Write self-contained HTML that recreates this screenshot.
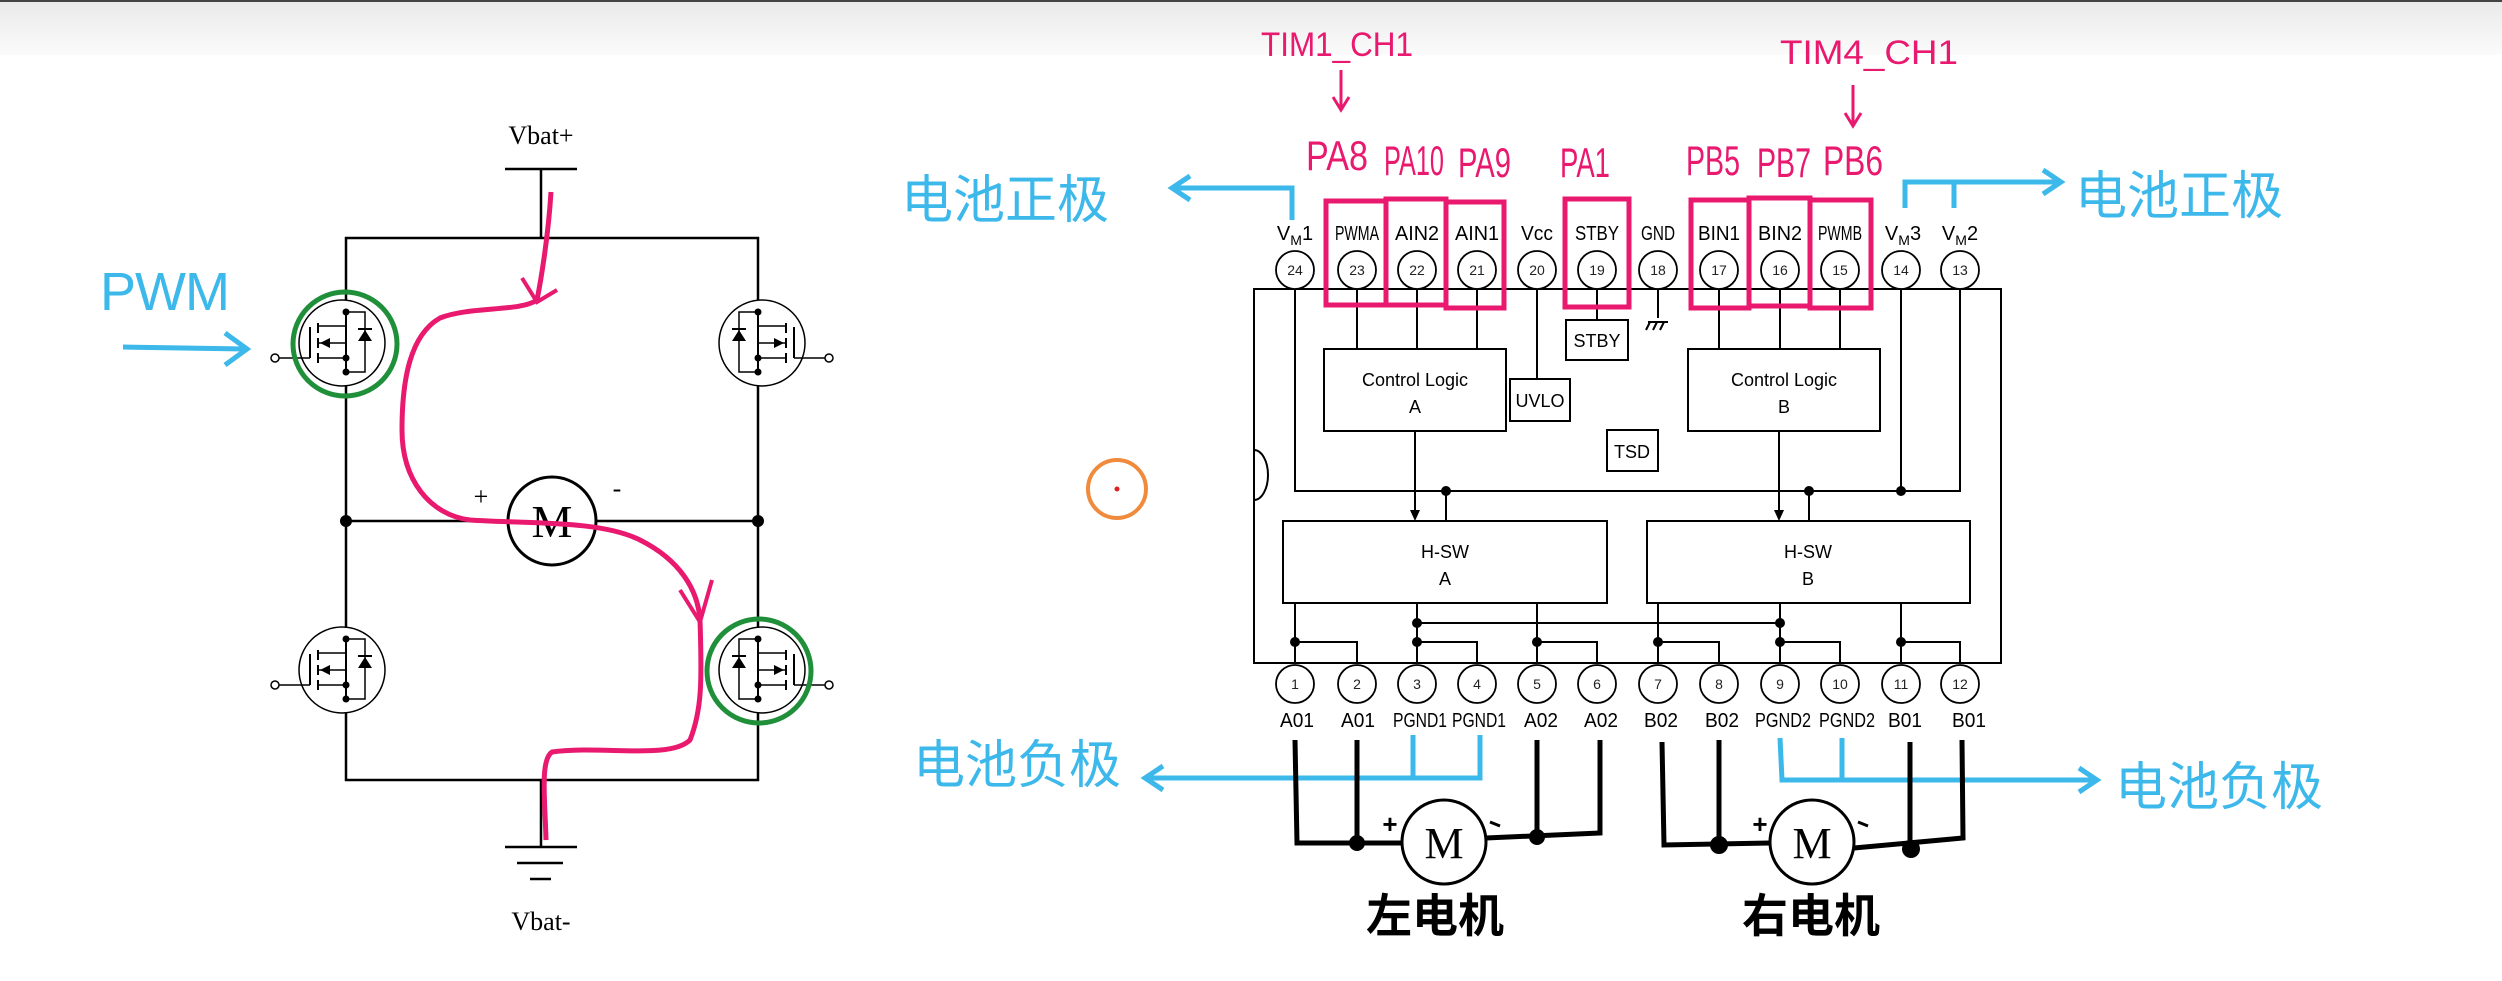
<!DOCTYPE html>
<html><head><meta charset="utf-8"><style>
html,body{margin:0;padding:0;background:#fff;}
svg{display:block;}
.t{font-family:"Liberation Serif",serif;}
.p{font-family:"Liberation Sans Narrow","Liberation Sans",sans-serif;}
.h{font-family:"Liberation Sans","Noto Sans CJK SC",sans-serif;}
</style></head><body>
<svg width="2502" height="981" viewBox="0 0 2502 981" xmlns="http://www.w3.org/2000/svg">
<defs>
<linearGradient id="g" x1="0" y1="0" x2="0" y2="1"><stop offset="0" stop-color="#e9e9e9"/><stop offset="1" stop-color="#fbfbfb"/></linearGradient>
<g id="mos">
 <circle cx="0" cy="0" r="43" fill="none" stroke="#000" stroke-width="1.5"/>
 <line x1="4" y1="-31" x2="4" y2="29" stroke="#000" stroke-width="2"/>
 <circle cx="4" cy="-31" r="3.5"/><circle cx="4" cy="15" r="3.5"/><circle cx="4" cy="29" r="3.5"/>
 <line x1="-32" y1="-16" x2="-32" y2="15" stroke="#000" stroke-width="2"/>
 <line x1="-24" y1="-20" x2="-24" y2="-10" stroke="#000" stroke-width="2"/>
 <line x1="-24" y1="-5" x2="-24" y2="5" stroke="#000" stroke-width="2"/>
 <line x1="-24" y1="10" x2="-24" y2="20" stroke="#000" stroke-width="2"/>
 <polyline points="-24,-17 4,-17" fill="none" stroke="#000" stroke-width="1.5"/>
 <polyline points="-24,0 4,0 4,15" fill="none" stroke="#000" stroke-width="1.5"/>
 <line x1="-24" y1="15" x2="4" y2="15" stroke="#000" stroke-width="1.5"/>
 <polygon points="-22,0 -12,-5 -12,5"/>
 <polyline points="4,-31 23,-31 23,29 4,29" fill="none" stroke="#000" stroke-width="1.5"/>
 <polygon points="16,-2 30,-2 23,-13"/><line x1="16" y1="-14" x2="30" y2="-14" stroke="#000" stroke-width="2"/>
 <line x1="-32" y1="15" x2="-63" y2="15" stroke="#000" stroke-width="1.5"/>
 <circle cx="-67" cy="15" r="4" fill="#fff" stroke="#000" stroke-width="1.5"/>
</g>
</defs>
<rect x="0" y="0" width="2502" height="981" fill="#fff"/>
<rect x="0" y="0" width="2502" height="55" fill="url(#g)"/>
<line x1="0" y1="1" x2="2502" y2="1" stroke="#444" stroke-width="2"/>

<!-- LEFT H-BRIDGE -->
<g stroke="#000" stroke-width="2.5" fill="none">
 <line x1="505" y1="169" x2="577" y2="169"/>
 <line x1="541" y1="169" x2="541" y2="238"/>
 <polyline points="346,300 346,238 758,238 758,300"/>
 <line x1="346" y1="385" x2="346" y2="628"/>
 <line x1="758" y1="385" x2="758" y2="628"/>
 <polyline points="346,712 346,780 758,780 758,712"/>
 <line x1="346" y1="521" x2="508" y2="521"/>
 <line x1="596" y1="521" x2="758" y2="521"/>
 <line x1="541" y1="780" x2="541" y2="847"/>
 <line x1="505" y1="847" x2="577" y2="847"/>
 <line x1="517" y1="863" x2="563" y2="863"/>
 <line x1="530" y1="879" x2="551" y2="879"/>
</g>
<circle cx="346" cy="521" r="6"/><circle cx="758" cy="521" r="6"/>
<circle cx="552" cy="521" r="44" fill="#fff" stroke="#000" stroke-width="3"/>
<text x="552" y="537" class="t" font-size="46" text-anchor="middle">M</text>
<text x="481" y="505" class="t" font-size="26" text-anchor="middle">+</text>
<text x="617" y="497" class="t" font-size="26" text-anchor="middle">-</text>
<text x="541" y="144" class="t" font-size="26" text-anchor="middle">Vbat+</text>
<text x="541" y="930" class="t" font-size="26" text-anchor="middle">Vbat-</text>
<use href="#mos" transform="translate(342,343)"/>
<use href="#mos" transform="translate(342,670)"/>
<use href="#mos" transform="translate(762,343) scale(-1,1)"/>
<use href="#mos" transform="translate(762,670) scale(-1,1)"/>
<circle cx="345" cy="344" r="52" fill="none" stroke="#1f8f3a" stroke-width="5"/>
<circle cx="759" cy="671" r="52" fill="none" stroke="#1f8f3a" stroke-width="5"/>
<path d="M551,192 C548,240 540,285 537,300 C520,312 470,306 440,318 C410,335 402,380 402,430 C402,480 430,515 470,520 C530,524 600,520 640,540 C680,560 698,590 700,620 C702,680 702,710 690,740 C670,760 600,745 552,752 C540,760 545,800 546,840" fill="none" stroke="#e8196e" stroke-width="5"/>
<polyline points="522,278 537,302 557,290" fill="none" stroke="#e8196e" stroke-width="4"/>
<polyline points="680,590 700,622 712,580" fill="none" stroke="#e8196e" stroke-width="4"/>
<text x="100" y="310" class="h" font-size="54" fill="#3cb8ea" textLength="130" lengthAdjust="spacing" font-weight="300">PWM</text>
<line x1="123" y1="347" x2="245" y2="349" stroke="#3cb8ea" stroke-width="5"/>
<polyline points="225,333 247,349 225,365" fill="none" stroke="#3cb8ea" stroke-width="5"/>

<!-- CHIP -->
<g stroke="#000" stroke-width="2" fill="none">
 <rect x="1254" y="289" width="747" height="374"/>
 <path d="M1254,450 A14,25 0 0 1 1254,500"/>
 <polyline points="1295,289 1295,491 1960,491 1960,289"/>
 <line x1="1901" y1="289" x2="1901" y2="491"/>
 <line x1="1446" y1="491" x2="1446" y2="521"/>
 <line x1="1809" y1="491" x2="1809" y2="521"/>
 <line x1="1357" y1="289" x2="1357" y2="349"/><line x1="1417" y1="289" x2="1417" y2="349"/><line x1="1477" y1="289" x2="1477" y2="349"/>
 <line x1="1719" y1="289" x2="1719" y2="349"/><line x1="1780" y1="289" x2="1780" y2="349"/><line x1="1840" y1="289" x2="1840" y2="349"/>
 <line x1="1537" y1="289" x2="1537" y2="379"/>
 <line x1="1597" y1="289" x2="1597" y2="320"/>
 <line x1="1658" y1="289" x2="1658" y2="318"/>
 <rect x="1324" y="349" width="182" height="82"/>
 <rect x="1688" y="349" width="192" height="82"/>
 <rect x="1510" y="379" width="60" height="42"/>
 <rect x="1566" y="320" width="62" height="40"/>
 <rect x="1607" y="430" width="51" height="41"/>
 <rect x="1283" y="521" width="324" height="82"/>
 <rect x="1647" y="521" width="323" height="82"/>
 <line x1="1415" y1="431" x2="1415" y2="515"/>
 <line x1="1779" y1="431" x2="1779" y2="515"/>
 <line x1="1295" y1="603" x2="1295" y2="663"/><polyline points="1295,642 1357,642 1357,663"/>
 <line x1="1417" y1="603" x2="1417" y2="663"/><polyline points="1417,642 1477,642 1477,663"/>
 <line x1="1537" y1="603" x2="1537" y2="663"/><polyline points="1537,642 1597,642 1597,663"/>
 <line x1="1658" y1="603" x2="1658" y2="663"/><polyline points="1658,642 1719,642 1719,663"/>
 <line x1="1780" y1="603" x2="1780" y2="663"/><polyline points="1780,642 1840,642 1840,663"/>
 <line x1="1901" y1="603" x2="1901" y2="663"/><polyline points="1901,642 1960,642 1960,663"/>
 <line x1="1417" y1="623" x2="1780" y2="623"/>
 <line x1="1648" y1="322" x2="1668" y2="322"/><line x1="1650" y1="322" x2="1646" y2="330"/><line x1="1657" y1="322" x2="1653" y2="330"/><line x1="1664" y1="322" x2="1660" y2="330"/>
</g>
<polygon points="1415,521 1410,510 1420,510"/><polygon points="1779,521 1774,510 1784,510"/>
<g>
 <circle cx="1446" cy="491" r="5"/><circle cx="1809" cy="491" r="5"/><circle cx="1901" cy="491" r="5"/>
 <circle cx="1295" cy="642" r="5"/><circle cx="1417" cy="642" r="5"/><circle cx="1417" cy="623" r="5"/><circle cx="1537" cy="642" r="5"/>
 <circle cx="1658" cy="642" r="5"/><circle cx="1780" cy="642" r="5"/><circle cx="1780" cy="623" r="5"/><circle cx="1901" cy="642" r="5"/>
</g>
<g class="p" font-size="18" text-anchor="middle">
 <text x="1415" y="386">Control Logic</text><text x="1415" y="413">A</text>
 <text x="1784" y="386">Control Logic</text><text x="1784" y="413">B</text>
 <text x="1540" y="407">UVLO</text><text x="1597" y="347">STBY</text><text x="1632" y="458">TSD</text>
 <text x="1445" y="558">H-SW</text><text x="1445" y="585">A</text>
 <text x="1808" y="558">H-SW</text><text x="1808" y="585">B</text>
</g>
<g fill="#fff" stroke="#000" stroke-width="1.8">
 <circle cx="1295" cy="270" r="19"/><circle cx="1357" cy="270" r="19"/><circle cx="1417" cy="270" r="19"/><circle cx="1477" cy="270" r="19"/><circle cx="1537" cy="270" r="19"/><circle cx="1597" cy="270" r="19"/><circle cx="1658" cy="270" r="19"/><circle cx="1719" cy="270" r="19"/><circle cx="1780" cy="270" r="19"/><circle cx="1840" cy="270" r="19"/><circle cx="1901" cy="270" r="19"/><circle cx="1960" cy="270" r="19"/>
 <circle cx="1295" cy="684" r="19"/><circle cx="1357" cy="684" r="19"/><circle cx="1417" cy="684" r="19"/><circle cx="1477" cy="684" r="19"/><circle cx="1537" cy="684" r="19"/><circle cx="1597" cy="684" r="19"/><circle cx="1658" cy="684" r="19"/><circle cx="1719" cy="684" r="19"/><circle cx="1780" cy="684" r="19"/><circle cx="1840" cy="684" r="19"/><circle cx="1901" cy="684" r="19"/><circle cx="1960" cy="684" r="19"/>
</g>
<g class="p" font-size="14" text-anchor="middle" fill="#222">
 <text x="1295" y="275">24</text><text x="1357" y="275">23</text><text x="1417" y="275">22</text><text x="1477" y="275">21</text><text x="1537" y="275">20</text><text x="1597" y="275">19</text><text x="1658" y="275">18</text><text x="1719" y="275">17</text><text x="1780" y="275">16</text><text x="1840" y="275">15</text><text x="1901" y="275">14</text><text x="1960" y="275">13</text>
 <text x="1295" y="689">1</text><text x="1357" y="689">2</text><text x="1417" y="689">3</text><text x="1477" y="689">4</text><text x="1537" y="689">5</text><text x="1597" y="689">6</text><text x="1658" y="689">7</text><text x="1719" y="689">8</text><text x="1780" y="689">9</text><text x="1840" y="689">10</text><text x="1901" y="689">11</text><text x="1960" y="689">12</text>
</g>
<g class="p" font-size="20" text-anchor="middle" lengthAdjust="spacingAndGlyphs">
 <text x="1295" y="240">V<tspan font-size="14" dy="5">M</tspan><tspan dy="-5">1</tspan></text>
 <text x="1357" y="240" textLength="44" lengthAdjust="spacingAndGlyphs">PWMA</text>
 <text x="1417" y="240" textLength="44" lengthAdjust="spacingAndGlyphs">AIN2</text>
 <text x="1477" y="240" textLength="44" lengthAdjust="spacingAndGlyphs">AIN1</text>
 <text x="1537" y="240" textLength="32" lengthAdjust="spacingAndGlyphs">Vcc</text>
 <text x="1597" y="240" textLength="44" lengthAdjust="spacingAndGlyphs">STBY</text>
 <text x="1658" y="240" textLength="34" lengthAdjust="spacingAndGlyphs">GND</text>
 <text x="1719" y="240" textLength="42" lengthAdjust="spacingAndGlyphs">BIN1</text>
 <text x="1780" y="240" textLength="44" lengthAdjust="spacingAndGlyphs">BIN2</text>
 <text x="1840" y="240" textLength="44" lengthAdjust="spacingAndGlyphs">PWMB</text>
 <text x="1903" y="240">V<tspan font-size="14" dy="5">M</tspan><tspan dy="-5">3</tspan></text>
 <text x="1960" y="240">V<tspan font-size="14" dy="5">M</tspan><tspan dy="-5">2</tspan></text>
 <text x="1297" y="727" textLength="34" lengthAdjust="spacingAndGlyphs">A01</text>
 <text x="1358" y="727" textLength="34" lengthAdjust="spacingAndGlyphs">A01</text>
 <text x="1420" y="727" textLength="54" lengthAdjust="spacingAndGlyphs">PGND1</text>
 <text x="1479" y="727" textLength="54" lengthAdjust="spacingAndGlyphs">PGND1</text>
 <text x="1541" y="727" textLength="34" lengthAdjust="spacingAndGlyphs">A02</text>
 <text x="1601" y="727" textLength="34" lengthAdjust="spacingAndGlyphs">A02</text>
 <text x="1661" y="727" textLength="34" lengthAdjust="spacingAndGlyphs">B02</text>
 <text x="1722" y="727" textLength="34" lengthAdjust="spacingAndGlyphs">B02</text>
 <text x="1783" y="727" textLength="56" lengthAdjust="spacingAndGlyphs">PGND2</text>
 <text x="1847" y="727" textLength="56" lengthAdjust="spacingAndGlyphs">PGND2</text>
 <text x="1905" y="727" textLength="34" lengthAdjust="spacingAndGlyphs">B01</text>
 <text x="1969" y="727" textLength="34" lengthAdjust="spacingAndGlyphs">B01</text>
</g>
<g fill="none" stroke="#e8196e" stroke-width="5">
 <rect x="1326" y="201" width="60" height="104"/><rect x="1386" y="199" width="60" height="106"/><rect x="1446" y="202" width="58" height="106"/>
 <rect x="1565" y="199" width="64" height="108"/>
 <rect x="1691" y="200" width="58" height="108"/><rect x="1749" y="198" width="61" height="108"/><rect x="1810" y="200" width="61" height="108"/>
 <line x1="1341" y1="70" x2="1341" y2="108" stroke-width="3"/><polyline points="1333,97 1341,110 1349,97" stroke-width="3"/>
 <line x1="1853" y1="85" x2="1853" y2="124" stroke-width="3"/><polyline points="1845,113 1853,126 1861,113" stroke-width="3"/>
</g>
<g class="p" fill="#e8196e" font-size="42">
 <text x="1261" y="56" font-size="34" textLength="152" lengthAdjust="spacingAndGlyphs">TIM1_CH1</text>
 <text x="1780" y="64" font-size="34" textLength="178" lengthAdjust="spacingAndGlyphs">TIM4_CH1</text>
 <text x="1306" y="170" textLength="62" lengthAdjust="spacingAndGlyphs">PA8</text>
 <text x="1384" y="175" textLength="60" lengthAdjust="spacingAndGlyphs">PA10</text>
 <text x="1458" y="177" textLength="53" lengthAdjust="spacingAndGlyphs">PA9</text>
 <text x="1560" y="177" textLength="50" lengthAdjust="spacingAndGlyphs">PA1</text>
 <text x="1686" y="175" textLength="54" lengthAdjust="spacingAndGlyphs">PB5</text>
 <text x="1757" y="177" textLength="54" lengthAdjust="spacingAndGlyphs">PB7</text>
 <text x="1823" y="175" textLength="60" lengthAdjust="spacingAndGlyphs">PB6</text>
</g>
<g fill="none" stroke="#3cb8ea" stroke-width="5">
 <polyline points="1292,220 1292,188 1172,188"/><polyline points="1190,176 1172,188 1190,200"/>
 <polyline points="1905,208 1905,182 2061,182"/><line x1="1954" y1="182" x2="1954" y2="208"/><polyline points="2043,170 2061,182 2043,194"/>
 <polyline points="1413,735 1413,778"/><polyline points="1480,735 1480,778 1145,778"/><polyline points="1163,766 1145,778 1163,790"/>
 <polyline points="1780,738 1782,780 2097,780"/><line x1="1842" y1="738" x2="1842" y2="780"/><polyline points="2079,768 2097,780 2079,792"/>
</g>
<g class="h" fill="#3cb8ea" font-size="52">
 <text x="901" y="218">电池正极</text>
 <text x="2075" y="214">电池正极</text>
 <text x="913" y="783">电池负极</text>
 <text x="2115" y="805">电池负极</text>
</g>
<g fill="none" stroke="#000" stroke-width="5">
 <polyline points="1295,740 1297,843 1401,843"/><line x1="1357" y1="740" x2="1357" y2="845"/>
 <polyline points="1486,838 1600,833 1600,740"/><line x1="1537" y1="740" x2="1537" y2="838"/>
 <polyline points="1662,742 1664,845 1770,843"/><line x1="1719" y1="740" x2="1719" y2="845"/>
 <polyline points="1854,848 1963,838 1962,740"/><line x1="1910" y1="742" x2="1910" y2="852"/>
</g>
<circle cx="1357" cy="843" r="8"/><circle cx="1537" cy="837" r="8"/><circle cx="1719" cy="845" r="9"/><circle cx="1911" cy="849" r="9"/>
<circle cx="1444" cy="842" r="42" fill="#fff" stroke="#000" stroke-width="3"/>
<circle cx="1812" cy="842" r="42" fill="#fff" stroke="#000" stroke-width="3"/>
<text x="1444" y="858" class="t" font-size="44" text-anchor="middle">M</text>
<text x="1812" y="858" class="t" font-size="44" text-anchor="middle">M</text>
<text x="1390" y="833" class="h" font-size="26" font-weight="bold" text-anchor="middle">+</text>
<text x="1760" y="833" class="h" font-size="26" font-weight="bold" text-anchor="middle">+</text>
<line x1="1490" y1="822" x2="1500" y2="826" stroke="#000" stroke-width="3"/>
<line x1="1858" y1="822" x2="1868" y2="826" stroke="#000" stroke-width="3"/>
<g class="h" font-size="46" font-weight="bold" text-anchor="middle">
 <text x="1435" y="932">左电机</text>
 <text x="1811" y="932">右电机</text>
</g>
<circle cx="1117" cy="489" r="29" fill="none" stroke="#f08a3c" stroke-width="4"/>
<circle cx="1117" cy="489" r="2.5" fill="#e02020"/>
</svg>
</body></html>
